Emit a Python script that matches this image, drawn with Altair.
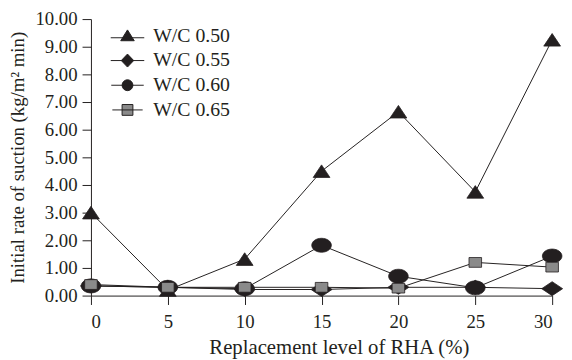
import altair as alt
import pandas as pd

levels = [0, 5, 10, 15, 20, 25, 30]
series_names = ["W/C 0.50", "W/C 0.55", "W/C 0.60", "W/C 0.65"]
wc050 = [3.00, 0.20, 1.32, 4.50, 6.65, 3.75, 9.25]
wc055 = [0.35, 0.30, 0.22, 0.22, 0.30, 0.30, 0.25]
wc060 = [0.35, 0.30, 0.25, 1.82, 0.70, 0.28, 1.43]
wc065 = [0.40, 0.30, 0.30, 0.30, 0.27, 1.20, 1.03]

rows = []
for name, vals in zip(series_names, [wc050, wc055, wc060, wc065]):
    for x, v in zip(levels, vals):
        rows.append({"level": x, "rate": v, "series": name})
df = pd.DataFrame(rows)

INK = "#231f20"
plot_shapes = [
    "M0,-0.9L1.2,0.9H-1.2Z",
    "M-1.5,0L0,-1L1.5,0L0,1Z",
    "M-1.4,0A1.4,1 0 1,1 1.4,0A1.4,1 0 1,1 -1.4,0Z",
    "M-0.9,-0.7H0.9V0.7H-0.9Z",
]
legend_shapes = [
    "M-3.1,0.35H3.1M0,-1.1L1.25,0.9H-1.25Z",
    "M-3.1,0H3.1M0,-1.2L1.15,0L0,1.2L-1.15,0Z",
    "M-3.0,0H3.0M-1,0A1,1 0 1,1 1,0A1,1 0 1,1 -1,0Z",
    "M-2.8,0H2.8M-1,-1H1V1H-1Z",
]
fills = [INK, INK, INK, "#8a8a8a"]
strokes = [INK, INK, INK, INK]

xenc = alt.X("level:Q", scale=alt.Scale(domain=[0, 30], nice=False, zero=False),
             axis=alt.Axis(values=levels, title="Replacement level of RHA (%)", format="d",
                           titleFontSize=21, titleX=251, labelPadding=8, titlePadding=6))
yenc = alt.Y("rate:Q", scale=alt.Scale(domain=[0, 10], nice=False),
             axis=alt.Axis(values=list(range(0, 11)), format=".2f",
                           title="Initial rate of suction (kg/m² min)", titleFontSize=19,
                           labelPadding=5, titlePadding=8))

lines = alt.Chart(df).mark_line(color=INK, strokeWidth=1).encode(
    x=xenc, y=yenc, detail="series:N"
)

points = alt.Chart(df).mark_point(filled=True, size=200, stroke=INK, strokeWidth=0.8, opacity=1).encode(
    x=xenc, y=yenc,
    shape=alt.Shape("series:N", scale=alt.Scale(domain=series_names, range=plot_shapes), legend=None),
    fill=alt.Fill("series:N", scale=alt.Scale(domain=series_names, range=fills), legend=None),
)

legend_layer = alt.Chart(df).mark_point(filled=True, size=120, opacity=0, strokeWidth=1).encode(
    x=xenc, y=yenc,
    shape=alt.Shape("series:N", scale=alt.Scale(domain=series_names, range=legend_shapes),
                    legend=alt.Legend(title=None, orient="none", legendX=27, legendY=7,
                                      labelFont="Liberation Serif", labelFontSize=20,
                                      labelColor=INK, symbolSize=120, symbolOpacity=1,
                                      symbolStrokeWidth=1,
                                      rowPadding=5, labelOffset=16)),
    fill=alt.Fill("series:N", scale=alt.Scale(domain=series_names, range=fills), legend=None),
    stroke=alt.Stroke("series:N", scale=alt.Scale(domain=series_names, range=strokes), legend=None),
)

chart = alt.layer(lines, points, legend_layer).resolve_scale(
    shape="independent", fill="independent", stroke="independent"
).properties(
    width=467, height=280,
    autosize=alt.AutoSizeParams(type="none"),
    padding={"left": 84, "top": 9, "right": 12, "bottom": 63},
).configure_view(stroke=None).configure_axis(
    grid=False,
    domainColor=INK, tickColor=INK, labelColor=INK, titleColor=INK,
    labelFont="Liberation Serif", titleFont="Liberation Serif",
    labelFontSize=19, titleFontWeight="normal",
    tickSize=9,
)

chart.save("out.html", embed_options={"renderer": "svg", "actions": False})
